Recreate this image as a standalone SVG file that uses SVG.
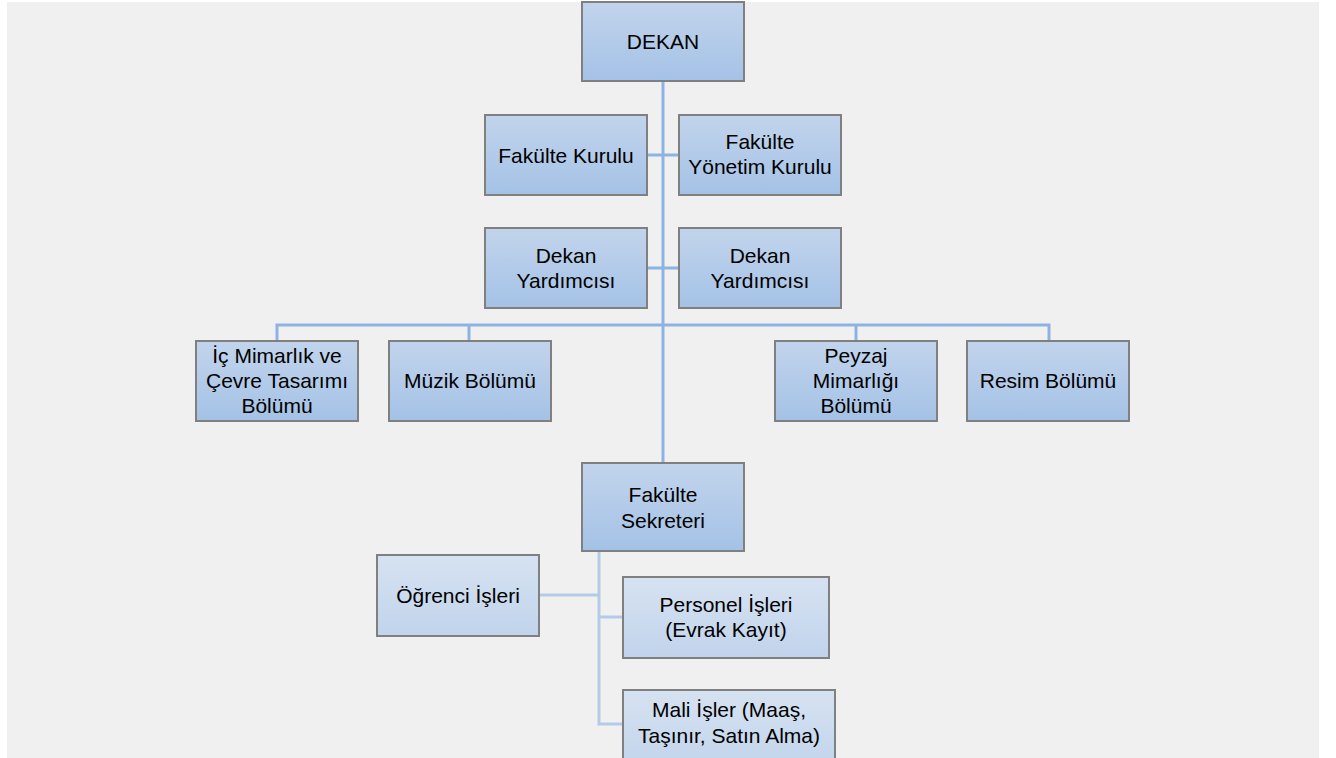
<svg xmlns="http://www.w3.org/2000/svg" width="1336" height="758" viewBox="0 0 1336 758">
<defs>
<linearGradient id="gA" x1="0" y1="0" x2="0" y2="1"><stop offset="0" stop-color="#c2d4ec"/><stop offset="1" stop-color="#a4c2e6"/></linearGradient>
<linearGradient id="gB" x1="0" y1="0" x2="0" y2="1"><stop offset="0" stop-color="#d6e2f1"/><stop offset="1" stop-color="#c1d4ec"/></linearGradient>
<style>
.box{stroke:#808080;stroke-width:2}
.a{fill:url(#gA)}
.b{fill:url(#gB)}
.t{font-family:"Liberation Sans",Arial,sans-serif;font-size:21px;fill:#000;text-anchor:middle}
.c{fill:none;stroke:#8db3e2;stroke-width:3}
.c2{fill:none;stroke:#b4cbe8;stroke-width:3}
</style>
</defs>
<rect x="7" y="2" width="1312" height="756" fill="#f0f0f0"/>
<g id="connectors">
<path class="c" d="M663 81V463M647 155H679M647 268H679M277 341V325H1049V341M469 325V341M856 325V341"/>
<path class="c2" d="M599 551V724H623M539 595H599M599 617H623"/>
</g>
<g id="dekan"><rect class="box a" x="582" y="2" width="162" height="79"/><text class="t" x="663" y="49">DEKAN</text></g>
<g id="fakulte-kurulu"><rect class="box a" x="485" y="115" width="162" height="80"/><text class="t" x="566" y="163">Fakülte Kurulu</text></g>
<g id="fakulte-yonetim-kurulu"><rect class="box a" x="679" y="115" width="162" height="80"/><text class="t" x="760" y="149">Fakülte</text><text class="t" x="760" y="174">Yönetim Kurulu</text></g>
<g id="dekan-yardimcisi-1"><rect class="box a" x="485" y="228" width="162" height="80"/><text class="t" x="566" y="263">Dekan</text><text class="t" x="566" y="288">Yardımcısı</text></g>
<g id="dekan-yardimcisi-2"><rect class="box a" x="679" y="228" width="162" height="80"/><text class="t" x="760" y="263">Dekan</text><text class="t" x="760" y="288">Yardımcısı</text></g>
<g id="ic-mimarlik"><rect class="box a" x="196" y="341" width="162" height="80"/><text class="t" x="277" y="363">İç Mimarlık ve</text><text class="t" x="277" y="388">Çevre Tasarımı</text><text class="t" x="277" y="413">Bölümü</text></g>
<g id="muzik"><rect class="box a" x="389" y="341" width="162" height="80"/><text class="t" x="470" y="388">Müzik Bölümü</text></g>
<g id="peyzaj"><rect class="box a" x="775" y="341" width="162" height="80"/><text class="t" x="856" y="363">Peyzaj</text><text class="t" x="856" y="388">Mimarlığı</text><text class="t" x="856" y="413">Bölümü</text></g>
<g id="resim"><rect class="box a" x="967" y="341" width="162" height="80"/><text class="t" x="1048" y="388">Resim Bölümü</text></g>
<g id="fakulte-sekreteri"><rect class="box a" x="582" y="463" width="162" height="88"/><text class="t" x="663" y="502">Fakülte</text><text class="t" x="663" y="528">Sekreteri</text></g>
<g id="ogrenci-isleri"><rect class="box b" x="377" y="555" width="162" height="81"/><text class="t" x="458" y="603">Öğrenci İşleri</text></g>
<g id="personel-isleri"><rect class="box b" x="623" y="577" width="206" height="81"/><text class="t" x="726" y="612">Personel İşleri</text><text class="t" x="726" y="637">(Evrak Kayıt)</text></g>
<g id="mali-isler"><rect class="box b" x="623" y="690" width="212" height="80"/><text class="t" x="729" y="717">Mali İşler (Maaş,</text><text class="t" x="729" y="743">Taşınır, Satın Alma)</text></g>
</svg>
